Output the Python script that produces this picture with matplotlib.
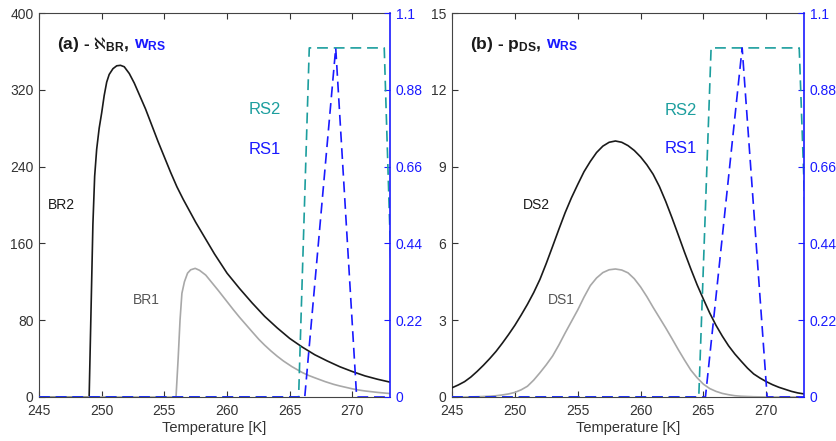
import matplotlib
matplotlib.use("Agg")
import matplotlib.pyplot as plt

plt.rcParams['font.family'] = ['Liberation Sans', 'DejaVu Sans']
plt.rcParams['mathtext.fontset'] = 'custom'
plt.rcParams['mathtext.rm'] = 'Liberation Sans'
plt.rcParams['mathtext.bf'] = 'Liberation Sans:bold'
plt.rcParams['mathtext.it'] = 'Liberation Sans:italic'
plt.rcParams['mathtext.fallback'] = 'stixsans'

# ---------------- data ----------------
xlim = (245, 273)
x_ticks = [245, 250, 255, 260, 265, 270]
w_ticks = [0, 0.22, 0.44, 0.66, 0.88, 1.1]
w_ticklabels = ['0', '0.22', '0.44', '0.66', '0.88', '1.1']

# panel (a)
br_ticks = [0, 80, 160, 240, 320, 400]
br2_T = [245.0, 249.0, 249.1, 249.2, 249.3, 249.44, 249.6, 249.8, 250.0, 250.2,
         250.4, 250.6, 250.9, 251.2, 251.5, 251.8, 252.2, 252.6, 253.0, 253.5,
         254.0, 254.5, 255.0, 255.5, 256.0, 256.5, 257.0, 257.5, 258.0, 258.5,
         259.0, 259.5, 260.0, 260.5, 261.0, 262.0, 263.0, 264.0, 265.0, 266.0,
         267.0, 268.0, 269.0, 270.0, 271.0, 272.0, 273.0]
br2_V = [0, 0, 60, 120, 180, 230, 258, 280, 296, 314,
         328, 336, 342, 345, 345.5, 344, 337, 327, 315, 300,
         283, 266, 250, 234, 219, 206, 194, 182, 171, 160,
         149, 139, 129, 121, 113, 98, 84, 72, 61, 52,
         44, 37.5, 31.5, 26.5, 22, 18.5, 15.5]
br1_T = [245.0, 255.93, 256.1, 256.25, 256.4, 256.6, 256.85, 257.1, 257.46, 257.8,
         258.3, 258.8, 259.3, 259.9, 260.5, 261.0, 261.5, 262.0, 262.54, 263.0,
         263.5, 264.0, 264.5, 265.18, 266.0, 266.5, 267.0, 267.83, 268.5, 269.0,
         270.0, 270.48, 271.0, 272.0, 273.0]
br1_V = [0, 0, 40, 80, 108, 120, 129, 132.5, 134, 132,
         127, 119, 111, 101, 91, 83, 75.5, 68, 60, 54,
         48, 42.5, 37.5, 31.6, 25.5, 22.5, 20, 16, 13.2, 11.5,
         8.5, 7.3, 6.3, 4.8, 3.6]
rs2a_T = [245.0, 265.71, 266.56, 272.54, 273.4]
rs2a_W = [0, 0, 1.0, 1.0, 0]
rs1a_T = [245.0, 266.2, 268.67, 270.34, 273.0]
rs1a_W = [0, 0, 1.0, 0, 0]

# panel (b)
ds_ticks = [0, 3, 6, 9, 12, 15]
ds_T = [245.0, 245.5, 246.0, 246.5, 247.0, 247.5, 248.0, 248.5, 249.0, 249.5,
        250.0, 250.5, 251.0, 251.5, 252.0, 252.5, 253.0, 253.5, 254.0, 254.5,
        255.0, 255.5, 256.0, 256.5, 257.0, 257.5, 258.0, 258.5, 259.0, 259.5,
        260.0, 260.5, 261.0, 261.5, 262.0, 262.5, 263.0, 263.5, 264.0, 264.5,
        265.0, 265.5, 266.0, 266.5, 267.0, 267.5, 268.0, 268.5, 269.0, 269.5,
        270.0, 270.5, 271.0, 271.5, 272.0, 272.5, 273.0]
ds2_V = [0.36, 0.47, 0.6, 0.78, 1.0, 1.24, 1.5, 1.78, 2.1, 2.44,
         2.8, 3.2, 3.62, 4.08, 4.6, 5.22, 5.88, 6.55, 7.2, 7.78,
         8.3, 8.8, 9.2, 9.55, 9.8, 9.95, 10.0, 9.95, 9.82, 9.63,
         9.38, 9.07, 8.7, 8.22, 7.64, 7.0, 6.33, 5.65, 5.0, 4.38,
         3.82, 3.28, 2.8, 2.38, 2.0, 1.68, 1.4, 1.13, 0.9, 0.74,
         0.6, 0.48, 0.38, 0.3, 0.22, 0.16, 0.12]
ds1_V = [0.0, 0.0, 0.0, 0.005, 0.01, 0.02, 0.03, 0.05, 0.08, 0.12,
         0.18, 0.28, 0.42, 0.66, 0.95, 1.26, 1.6, 2.03, 2.5, 2.95,
         3.4, 3.9, 4.35, 4.65, 4.86, 4.97, 5.0, 4.96, 4.85, 4.62,
         4.3, 3.92, 3.5, 3.1, 2.7, 2.28, 1.85, 1.44, 1.05, 0.75,
         0.5, 0.33, 0.22, 0.14, 0.09, 0.05, 0.03, 0.02, 0.01, 0.005,
         0.0, 0.0, 0.0, 0.0, 0.0, 0.0, 0.0]
rs2b_T = [245.0, 264.63, 265.61, 272.62, 273.6]
rs2b_W = [0, 0, 1.0, 1.0, 0]
rs1b_T = [245.0, 265.16, 268.08, 270.07, 273.0]
rs1b_W = [0, 0, 1.0, 0, 0]

# ---------------- style ----------------
BLACK = '#1a1a1a'
GRAY = '#a8a8a8'
TEAL = '#1c9e9e'
BLUE = '#1a1aff'
FS = 10

fig = plt.figure(figsize=(8.36, 4.41), dpi=100)
W, H = 836, 441


def make_panel(left_px, width_px, ticks, ylim, curves, rs2, rs1, labels, title_black, title_blue):
    ax = fig.add_axes([left_px / W, 44 / H, width_px / W, 384 / H])
    ax2 = ax.twinx()
    for T, V, c in curves:
        ax.plot(T, V, color=c, lw=1.2, zorder=3)
    ax2.plot(rs2[0], rs2[1], color=TEAL, lw=1.2, dashes=(6.5, 3.5), clip_on=True)
    ax2.plot(rs1[0], rs1[1], color=BLUE, lw=1.2, dashes=(6.5, 3.5), clip_on=True)
    ax.set_xlim(*xlim)
    ax.set_ylim(*ylim)
    ax2.set_ylim(0, 1.1)
    ax.set_xticks(x_ticks)
    ax.set_yticks(ticks)
    ax2.set_yticks(w_ticks)
    ax2.set_yticklabels(w_ticklabels)
    ax.tick_params(axis='x', direction='in', top=True, length=4, labelsize=FS, colors='#333333', pad=5)
    ax.tick_params(axis='y', direction='in', length=4, labelsize=FS, colors='#333333', pad=4)
    ax2.tick_params(axis='y', direction='in', length=4, labelsize=FS, colors=BLUE, pad=4)
    for s in ['left', 'top', 'bottom']:
        ax.spines[s].set_color('#444444')
        ax2.spines[s].set_visible(False)
    ax.spines['right'].set_visible(False)
    ax2.spines['right'].set_color(BLUE)
    ax2.spines['right'].set_linewidth(1.2)
    ax.set_xlabel('Temperature [K]', fontsize=FS + 0.5, color='#333333', labelpad=2)
    for (x, y, s, c, fs) in labels:
        ax.text(x, y, s, color=c, fontsize=fs, va='center', ha='left')
    t1 = ax.text(0.051, 0.905, title_black, transform=ax.transAxes, fontsize=12.5,
                 fontweight='bold', color=BLACK, va='baseline', ha='left')
    ax.annotate(title_blue, xy=(1, 0), xycoords=t1, xytext=(3, 1), textcoords='offset points',
                fontsize=12.5, fontweight='bold', color=BLUE, va='bottom', ha='left')
    return ax, ax2


make_panel(39, 351, br_ticks, (0, 400),
           [(br2_T, br2_V, BLACK), (br1_T, br1_V, GRAY)],
           (rs2a_T, rs2a_W), (rs1a_T, rs1a_W),
           [(245.7, 200, 'BR2', BLACK, 10), (252.5, 101, 'BR1', '#555555', 10),
            (261.75, 299, 'RS2', TEAL, 12), (261.75, 258, 'RS1', BLUE, 12)],
           r'(a) - $\aleph_{\mathbf{BR}}$,', r'$\mathbf{w}_{\mathbf{RS}}$')

make_panel(452, 352, ds_ticks, (0, 15),
           [(ds_T, ds2_V, BLACK), (ds_T, ds1_V, GRAY)],
           (rs2b_T, rs2b_W), (rs1b_T, rs1b_W),
           [(250.66, 7.5, 'DS2', BLACK, 10), (252.65, 3.8, 'DS1', '#555555', 10),
            (261.9, 11.2, 'RS2', TEAL, 12), (261.9, 9.7, 'RS1', BLUE, 12)],
           r'(b) - $\mathbf{p}_{\mathbf{DS}}$,', r'$\mathbf{w}_{\mathbf{RS}}$')

fig.savefig('out.png', dpi=100)
